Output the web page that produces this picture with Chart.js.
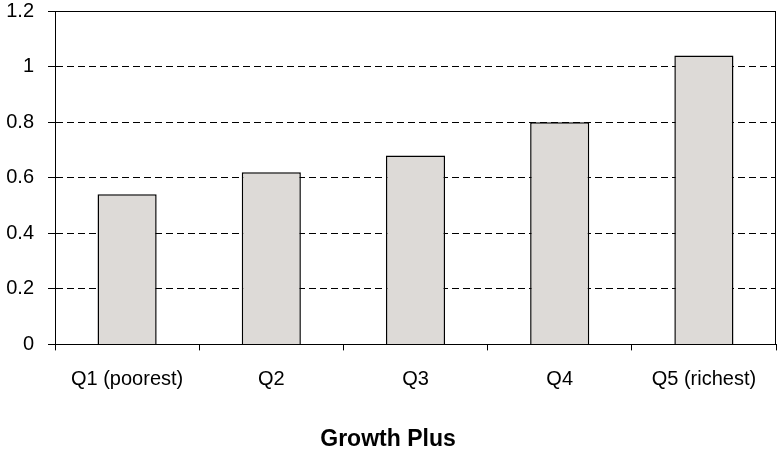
<!DOCTYPE html>
<html>
<head>
<meta charset="utf-8">
<script src="https://cdn.jsdelivr.net/npm/chart.js@4"></script>
<style>
  html, body { margin: 0; padding: 0; background: #fff; }
  #wrap { width: 780px; height: 455px; }
</style>
</head>
<body>
<div id="wrap"><canvas id="bar-chart"></canvas></div>
<script>
var quintiles = ["Q1 (poorest)", "Q2", "Q3", "Q4", "Q5 (richest)"];
var growthPlus = [0.54, 0.62, 0.68, 0.80, 1.04];
var yTicks = [0, 0.2, 0.4, 0.6, 0.8, 1, 1.2];

// solid frame round the plot area (top and right edges are solid in the original)
var frame = {
  id: 'frame',
  afterDatasetsDraw: function(chart) {
    var a = chart.chartArea, ctx = chart.ctx;
    ctx.save();
    ctx.strokeStyle = '#000';
    ctx.lineWidth = 1;
    ctx.strokeRect(Math.round(a.left) + 0.5, Math.round(a.top) + 0.5,
      Math.round(a.right - a.left) - 1, Math.round(a.bottom - a.top));
    ctx.restore();
  }
};

Chart.defaults.font.family = "'Liberation Sans', Arial, sans-serif";
Chart.defaults.color = '#000';

new Chart(document.getElementById("bar-chart"), {
  type: 'bar',
  data: {
    labels: quintiles,
    datasets: [{
      label: "Growth Plus",
      data: growthPlus,
      backgroundColor: "#dddad7",
      borderColor: "#000",
      borderWidth: 1.5,
      barPercentage: 0.41,
      categoryPercentage: 1.0
    }]
  },
  options: {
    responsive: true,
    maintainAspectRatio: false,
    animation: false,
    layout: { padding: { top: 0, right: 4, left: 0, bottom: 2 } },
    plugins: {
      legend: { display: false },
      tooltip: { enabled: false },
      title: {
        display: true,
        position: 'bottom',
        text: 'Growth Plus',
        font: { size: 23, weight: 'bold' },
        padding: { top: 34, bottom: 0 }
      }
    },
    scales: {
      x: {
        grid: {
          offset: true,
          drawOnChartArea: false,
          drawTicks: true,
          tickLength: 6,
          color: '#000'
        },
        border: { color: '#000', width: 1 },
        ticks: { font: { size: 20 }, padding: 17, maxRotation: 0 },
        afterFit: function(axis) {
          axis.height = 47;
          axis.paddingLeft = 0;
          axis.paddingRight = 0;
        }
      },
      y: {
        min: 0,
        max: 1.2,
        afterBuildTicks: function(axis) {
          axis.ticks = yTicks.map(function(v) { return { value: v }; });
        },
        grid: {
          color: '#000',
          tickLength: 7,
          tickBorderDash: []
        },
        border: { color: '#000', width: 1, dash: [7, 4] },
        ticks: {
          font: { size: 20 },
          padding: 14,
          callback: function(v) { return String(Math.round(v * 10) / 10); }
        },
        afterFit: function(axis) {
          axis.width = 55;
          axis.paddingTop = 11;
          axis.paddingBottom = 0;
        }
      }
    }
  },
  plugins: [frame]
});
</script>
</body>
</html>
